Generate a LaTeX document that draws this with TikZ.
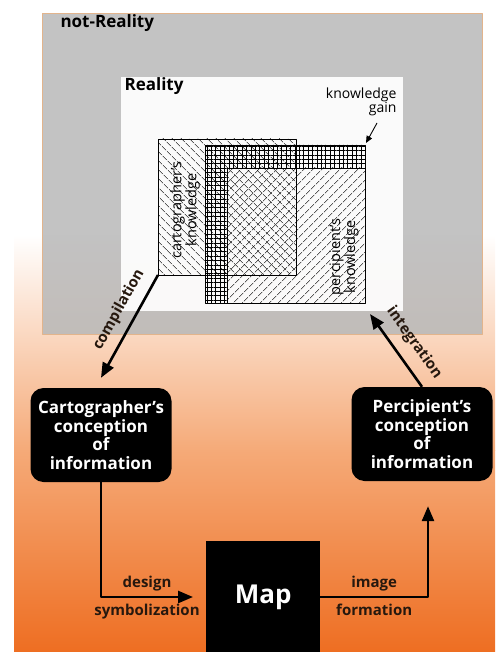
\documentclass[tikz,border=0pt]{standalone}
\usepackage{fontspec}
\setmainfont{Open Sans}
\usetikzlibrary{arrows.meta,patterns.meta,calc,positioning}

\definecolor{peach}{RGB}{245,170,120}
\definecolor{deeporange}{RGB}{238,110,34}
\definecolor{tanframe}{RGB}{226,180,140}
\definecolor{fog}{RGB}{184,184,184}
\definecolor{inkbrown}{RGB}{38,24,14}

\tikzset{
  concept/.style={fill=black, rounded corners=13pt, minimum width=141pt, minimum height=94pt,
    text=white, align=center, inner sep=2pt, font=\fontsize{17}{18.5}\selectfont\bfseries},
  flow/.style={line width=2.6pt, -{Triangle[length=15pt,width=12pt]}},
  steplabel/.style={text=inkbrown, font=\fontsize{15}{17}\selectfont\bfseries},
  areatext/.style={rotate=90, align=center, font=\fontsize{14.5}{15}\selectfont},
  title/.style={anchor=north west, font=\fontsize{17}{19}\selectfont\bfseries},
}

\begin{document}
\begin{tikzpicture}[x=1pt,y=-1pt,line join=round]
	\useasboundingbox (0,0) rectangle (495,652);
	% orange backdrop, fading out towards the top
	\shade[top color=white, bottom color=peach] (14,235) rectangle (495,450.5);
	\shade[top color=peach, bottom color=deeporange] (14,450) rectangle (495,652);
	% not-Reality and Reality frames
	\draw[tanframe, line width=.8pt, fill=fog, fill opacity=.85] (42,13) rectangle (482,334);
	\node[title] (notreal) at (57,11) {not-Reality};
	\fill[white, fill opacity=.92] (121,77) rectangle (403,311);
	\node[title] (real) at (121,74) {Reality};
	% knowledge areas
	\coordinate (C1) at (158,139);
	\coordinate (C2) at (296,275);
	\coordinate (P1) at (205,145);
	\coordinate (P2) at (365,303);
	\coordinate (G) at (227,168);
	\fill[pattern={Lines[angle=45,distance=6.5pt,line width=.5pt]}] (G) rectangle (P2);
	\fill[pattern={Lines[angle=-45,distance=6.5pt,line width=.5pt]}] (C1) rectangle (C2);
	\fill[pattern={Hatch[angle=0,distance=4.4pt,line width=.5pt]}]
		(P1) -- (P1 -| P2) -- (G -| P2) -- (G) -- (G |- P2) -- (P1 |- P2) -- cycle;
	\draw[line width=.8pt] (C1) rectangle (C2);
	\draw[line width=.8pt] (P1) rectangle (P2);
	\draw[line width=.8pt] (G -| P2) -- (G) -- (G |- P2);
	\node[areatext] (cartknow) at (185,210) {cartographer's\\knowledge};
	\node[areatext] (percknow) at (344,257) {percipient's\\knowledge};
	% knowledge gain
	\node[anchor=north east, align=right, font=\fontsize{14}{14}\selectfont] (gain) at (400,84) {knowledge\\gain};
	\coordinate (gaintail) at (377,123);
	\draw[line width=.9pt, -{Triangle[length=7pt,width=6pt]}] (gaintail) -- ($(P1 -| P2)+(1,-2)$);
	% conceptions and the map
	\node[concept] (cart) at (101,435) {Cartographer's\\conception\\of\\information};
	\node[concept] (perc) at (422,434) {Percipient's\\conception\\of\\information};
	\node[fill=black, text=white, anchor=north west, minimum width=114pt, minimum height=112pt,
		font=\fontsize{26}{28}\selectfont\bfseries] (map) at (206,541) {Map};
	\coordinate (flowrow) at (0,597);
	\coordinate (perctip) at (370,314);
	% flows
	\draw[flow] (C1 |- C2) -- ($(cart.north)+(0,-10)$)
		node[steplabel, pos=.42, sloped, above=5pt] {compilation};
	\draw[flow] (perc.north) -- (perctip)
		node[steplabel, pos=.45, sloped, above=7pt] {integration};
	\draw[flow] (cart.south) |- ($(map.west |- flowrow)+(-13,0)$)
		node[steplabel, pos=.75, above=1pt] {design}
		node[steplabel, pos=.75, below=2pt] {symbolization};
	\draw[flow] (map.east |- flowrow) -| ($(perc.south)+(6,25)$)
		node[steplabel, pos=.25, above=1pt] {image}
		node[steplabel, pos=.25, below=2pt] {formation};
\end{tikzpicture}
\end{document}
